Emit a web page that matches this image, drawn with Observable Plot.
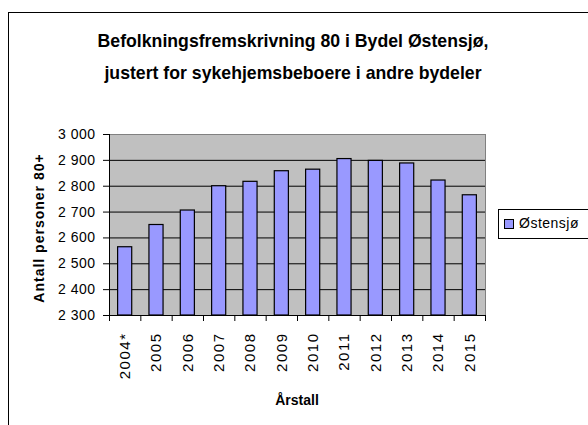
<!DOCTYPE html>
<html>
<head>
<meta charset="utf-8">
<script src="https://cdn.jsdelivr.net/npm/d3@7"></script>
<script src="https://cdn.jsdelivr.net/npm/@observablehq/plot@0.6"></script>
<style>
  html, body { margin: 0; padding: 0; background: #fff; }
  #wrap { position: relative; width: 588px; height: 425px; overflow: hidden; background: #fff; font-family: "Liberation Sans", Arial, sans-serif; color: #000; }
  #frame { position: absolute; left: 8px; top: 12px; width: 620px; height: 500px; border: 1px solid #000; box-sizing: border-box; }
  #title { position: absolute; left: 0; width: 586px; top: 25px; text-align: center; font-weight: bold; font-size: 19px; line-height: 32px; transform: scaleX(0.93); transform-origin: 293px 0; }
  #ytitle { position: absolute; left: 39px; top: 228px; transform: translate(-50%, -50%) rotate(-90deg); white-space: nowrap; font-weight: bold; font-size: 14px; letter-spacing: 1px; }
  #xtitle { position: absolute; left: 297px; top: 392px; transform: translateX(-50%); font-weight: bold; font-size: 14px; }
  #legend { position: absolute; left: 498px; top: 209px; width: 110px; height: 30px; border: 1px solid #000; box-sizing: border-box; font-size: 14px; letter-spacing: 0.5px; }
  #legend .sw { position: absolute; left: 5px; top: 9px; width: 10px; height: 10px; background: #9999ff; border: 1px solid #000; box-sizing: border-box; }
  #legend .lb { position: absolute; left: 20px; top: 5px; }
  #chart { position: absolute; left: 0; top: 0; }
  g[aria-label="x-axis tick label"] text { letter-spacing: 1.5px; }
  g[aria-label="y-axis tick label"] text { letter-spacing: 0.5px; }
</style>
</head>
<body>
<div id="wrap">
  <div id="frame"></div>
  <div id="title">Befolkningsfremskrivning 80 i Bydel Østensjø,<br>justert for sykehjemsbeboere i andre bydeler</div>
  <div id="ytitle">Antall personer 80+</div>
  <div id="xtitle">Årstall</div>
  <div id="legend"><div class="sw"></div><div class="lb">Østensjø</div></div>
  <div id="chart"></div>
</div>
<script>
// Data
const years = ["2004*", "2005", "2006", "2007", "2008", "2009", "2010", "2011", "2012", "2013", "2014", "2015"];
const values = [2564, 2650, 2706, 2800, 2817, 2858, 2864, 2905, 2898, 2888, 2822, 2765];
const yTicks = [2300, 2400, 2500, 2600, 2700, 2800, 2900, 3000];
const seriesName = "Østensjø";

const idx = years.map((_, i) => i);
const data = years.map((y, i) => ({i, year: y, value: values[i]}));
const yMin = yTicks[0], yMax = yTicks[yTicks.length - 1];
const halfBar = 0.225;
const fmt = d3.formatLocale({decimal: ",", thousands: " ", grouping: [3], currency: ["", ""]}).format(",");

const chart = Plot.plot({
  width: 588,
  height: 425,
  marginTop: 134,
  marginBottom: 110,
  marginLeft: 109,
  marginRight: 103,
  style: {fontFamily: "Liberation Sans, Arial, sans-serif", fontSize: "14px", color: "#000", background: "transparent"},
  x: {type: "linear", domain: [-0.5, years.length - 0.5]},
  y: {domain: [yMin, yMax]},
  marks: [
    Plot.frame({fill: "#c0c0c0", stroke: null}),
    Plot.gridY(yTicks, {stroke: "#000", strokeOpacity: 1, strokeWidth: 1}),
    Plot.frame({anchor: "top", stroke: "#808080"}),
    Plot.frame({anchor: "right", stroke: "#808080"}),
    Plot.rectY(data, {x1: d => d.i - halfBar, x2: d => d.i + halfBar, y1: yMin, y2: "value", fill: "#9999ff", stroke: "#000", strokeWidth: 1.2}),
    Plot.ruleY([yMin], {stroke: "#000"}),
    Plot.ruleX([-0.5], {stroke: "#000"}),
    Plot.axisY(yTicks, {tickSize: 6, tickPadding: 8, tickFormat: fmt, label: null, fontSize: 14}),
    Plot.axisX(d3.range(-0.5, years.length, 1), {tickSize: 6, tickFormat: () => "", label: null}),
    Plot.axisX(idx, {tickSize: 0, tickPadding: 17, tickRotate: -90, tickFormat: i => years[i], label: null, fontSize: 15})
  ]
});
document.getElementById("chart").appendChild(chart);
</script>
</body>
</html>
